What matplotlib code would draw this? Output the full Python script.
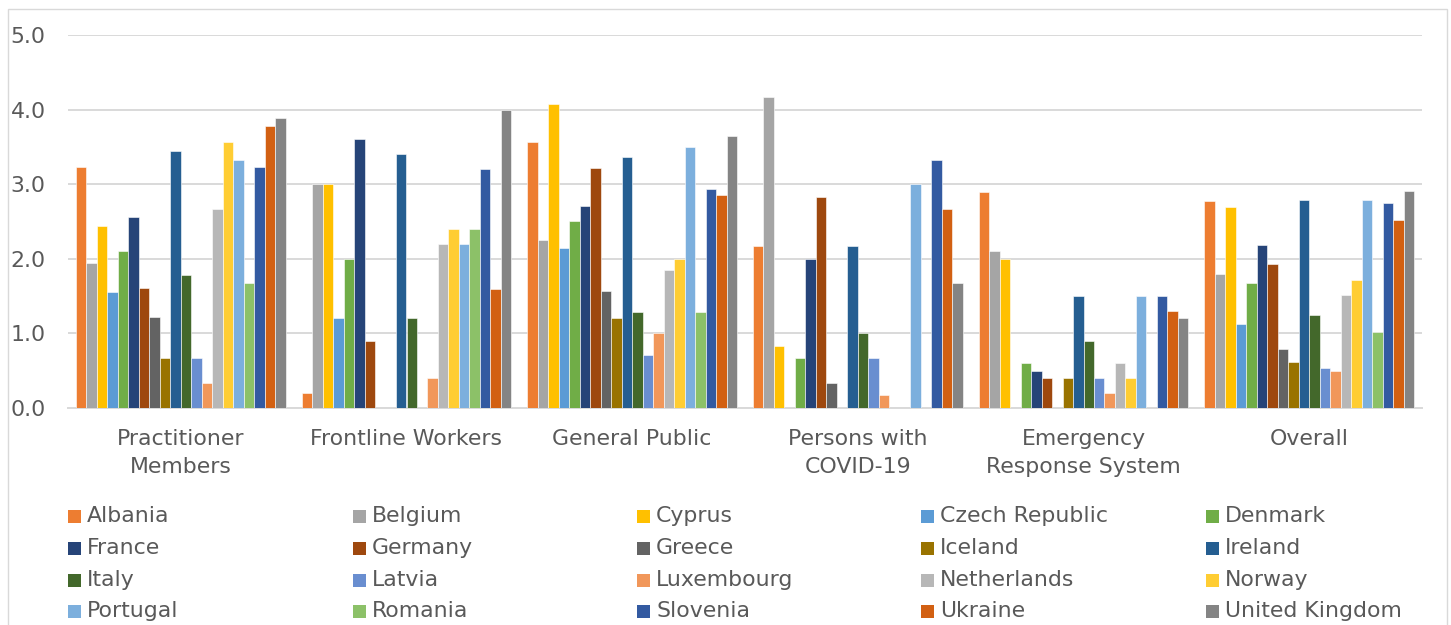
import numpy as np
import matplotlib
matplotlib.use("Agg")
import matplotlib.pyplot as plt
from matplotlib.patches import Rectangle

# Mean scores per stakeholder group, one list per country
groups = ["Practitioner\nMembers", "Frontline Workers", "General Public",
          "Persons with\nCOVID-19", "Emergency\nResponse System", "Overall"]

countries = ["Albania", "Belgium", "Cyprus", "Czech Republic", "Denmark",
             "France", "Germany", "Greece", "Iceland", "Ireland",
             "Italy", "Latvia", "Luxembourg", "Netherlands", "Norway",
             "Portugal", "Romania", "Slovenia", "Ukraine", "United Kingdom"]

colors = ["#ED7D31", "#A5A5A5", "#FFC000", "#5B9BD5", "#70AD47",
          "#264478", "#9E480E", "#636363", "#997300", "#255E91",
          "#43682B", "#698ED0", "#F1975A", "#B7B7B7", "#FFCD33",
          "#7CAFDD", "#8CC168", "#335AA1", "#D26012", "#848484"]

# columns: Practitioner, Frontline, General Public, COVID-19, Emergency, Overall
albania     = [3.23, 0.20, 3.57, 2.17, 2.89, 2.77]
belgium     = [1.95, 3.00, 2.25, 4.17, 2.10, 1.80]
cyprus      = [2.44, 3.00, 4.08, 0.83, 2.00, 2.70]
czech       = [1.56, 1.20, 2.14, 0.00, 0.00, 1.13]
denmark     = [2.11, 2.00, 2.50, 0.67, 0.60, 1.67]
france      = [2.56, 3.60, 2.71, 2.00, 0.50, 2.18]
germany     = [1.61, 0.90, 3.22, 2.83, 0.40, 1.93]
greece      = [1.22, 0.00, 1.57, 0.33, 0.00, 0.79]
iceland     = [0.67, 0.00, 1.21, 0.00, 0.40, 0.61]
ireland     = [3.44, 3.40, 3.36, 2.17, 1.50, 2.79]
italy       = [1.78, 1.20, 1.29, 1.00, 0.90, 1.25]
latvia      = [0.67, 0.00, 0.71, 0.67, 0.40, 0.54]
luxembourg  = [0.33, 0.40, 1.00, 0.17, 0.20, 0.50]
netherlands = [2.67, 2.20, 1.85, 0.00, 0.60, 1.51]
norway      = [3.56, 2.40, 2.00, 0.00, 0.40, 1.72]
portugal    = [3.33, 2.20, 3.50, 3.00, 1.50, 2.79]
romania     = [1.67, 2.40, 1.29, 0.00, 0.00, 1.02]
slovenia    = [3.23, 3.20, 2.93, 3.33, 1.50, 2.75]
ukraine     = [3.78, 1.60, 2.86, 2.67, 1.30, 2.52]
uk          = [3.89, 4.00, 3.65, 1.67, 1.20, 2.91]

values = [albania, belgium, cyprus, czech, denmark, france, germany, greece,
          iceland, ireland, italy, latvia, luxembourg, netherlands, norway,
          portugal, romania, slovenia, ukraine, uk]

text_col = "#595959"
grid_col = "#D9D9D9"
plt.rcParams["font.family"] = "DejaVu Sans"

fig = plt.figure(figsize=(14.51, 6.25), dpi=100)
ax = fig.add_axes([68 / 1451, 1 - 408 / 625, (1422 - 68) / 1451, (408 - 35) / 625])

n = len(countries)
width = 1 / (n + 1.5)          # 150% gap between category clusters
x = np.arange(len(groups))
for i, (name, vals, col) in enumerate(zip(countries, values, colors)):
    offset = (i - (n - 1) / 2) * width
    ax.bar(x + offset, vals, width, color=col, edgecolor="white",
           linewidth=0.4, zorder=3, label=name)

ax.set_xlim(-0.5, len(groups) - 0.5)
ax.set_ylim(0, 5)
ax.set_yticks(np.arange(0, 5.1, 1.0))
ax.set_yticklabels([f"{v:.1f}" for v in np.arange(0, 5.1, 1.0)])
ax.set_xticks(x)
ax.set_xticklabels(groups, linespacing=1.52)
ax.yaxis.grid(True, color=grid_col, linewidth=1.4, zorder=0)
ax.tick_params(axis="both", length=0, labelsize=15.8, colors=text_col)
ax.tick_params(axis="y", pad=16)
ax.tick_params(axis="x", pad=15)
for side in ["top", "right", "left"]:
    ax.spines[side].set_visible(False)
ax.spines["bottom"].set_color(grid_col)
ax.spines["bottom"].set_linewidth(1.4)

# legend laid out in equal-width columns, row by row
col_x = [68, 353, 637, 921, 1206]
row_y = [516, 548, 580, 611]
for i, (name, col) in enumerate(zip(countries, colors)):
    cx = col_x[i % 5]
    cy = row_y[i // 5]
    fig.patches.append(Rectangle((cx / 1451, 1 - (cy + 6.5) / 625), 13 / 1451, 13 / 625,
                                 transform=fig.transFigure, facecolor=col,
                                 edgecolor="none"))
    fig.text((cx + 19) / 1451, 1 - cy / 625, name, fontsize=15.8,
             color=text_col, va="center", ha="left")

# chart frame
fig.patches.append(Rectangle((8 / 1451, -0.05), (1447 - 8) / 1451, 1.05 - 9 / 625,
                             transform=fig.transFigure, facecolor="none",
                             edgecolor="#D9D9D9", linewidth=1.0))

fig.savefig("out.png", dpi=100)
